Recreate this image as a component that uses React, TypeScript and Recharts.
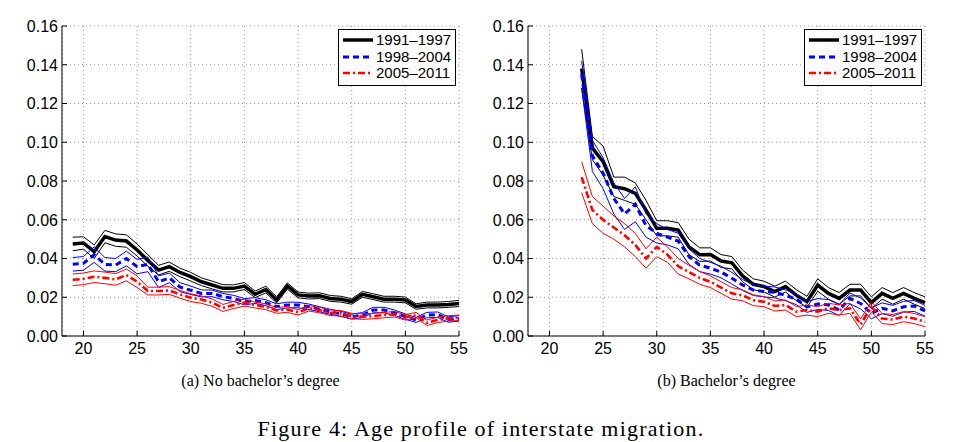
import { LineChart, Line, XAxis, YAxis, CartesianGrid, Legend } from 'recharts'

// ages on the x axis
const leftAges = [19, 20, 21, 22, 23, 24, 25, 26, 27, 28, 29, 30, 31, 32, 33, 34, 35, 36, 37, 38, 39, 40, 41, 42, 43, 44, 45, 46, 47, 48, 49, 50, 51, 52, 53, 54, 55]
const rightAges = [23, 24, 25, 26, 27, 28, 29, 30, 31, 32, 33, 34, 35, 36, 37, 38, 39, 40, 41, 42, 43, 44, 45, 46, 47, 48, 49, 50, 51, 52, 53, 54, 55]

const xTicks = [20, 25, 30, 35, 40, 45, 50, 55]
const yTicks = [0, 0.02, 0.04, 0.06, 0.08, 0.1, 0.12, 0.14, 0.16]

// (a) no bachelor's degree
const noBa9197 = [0.0475, 0.048, 0.0435, 0.0513, 0.0495, 0.049, 0.0444, 0.039, 0.034, 0.0358, 0.0328, 0.0306, 0.028, 0.0263, 0.0246, 0.0246, 0.0258, 0.0215, 0.024, 0.0186, 0.0258, 0.0212, 0.0206, 0.0208, 0.0194, 0.019, 0.0178, 0.0215, 0.0203, 0.019, 0.019, 0.0186, 0.0152, 0.016, 0.016, 0.0163, 0.0168]
const noBa9197Hi = [0.051, 0.0512, 0.047, 0.0545, 0.0527, 0.0522, 0.0475, 0.042, 0.0365, 0.0382, 0.035, 0.0328, 0.03, 0.0283, 0.0265, 0.0264, 0.0276, 0.0232, 0.0257, 0.0202, 0.0274, 0.0227, 0.0221, 0.0223, 0.0209, 0.0205, 0.0192, 0.023, 0.0218, 0.0205, 0.0205, 0.0201, 0.0166, 0.0175, 0.0175, 0.0178, 0.0184]
const noBa9197Lo = [0.044, 0.0448, 0.04, 0.0481, 0.0463, 0.0458, 0.0413, 0.036, 0.0315, 0.0334, 0.0306, 0.0284, 0.026, 0.0243, 0.0227, 0.0228, 0.024, 0.0198, 0.0223, 0.017, 0.0242, 0.0197, 0.0191, 0.0193, 0.0179, 0.0175, 0.0164, 0.02, 0.0188, 0.0175, 0.0175, 0.0171, 0.0138, 0.0145, 0.0145, 0.0148, 0.0152]

const noBa9804 = [0.037, 0.0375, 0.042, 0.037, 0.0366, 0.04, 0.0358, 0.037, 0.028, 0.03, 0.0252, 0.0236, 0.022, 0.022, 0.0203, 0.0194, 0.0177, 0.0183, 0.0172, 0.0151, 0.016, 0.016, 0.0151, 0.0138, 0.0125, 0.0114, 0.01, 0.0108, 0.0134, 0.0134, 0.012, 0.01, 0.0083, 0.0108, 0.011, 0.0085, 0.0091]
const noBa9804Hi = [0.0405, 0.041, 0.046, 0.0405, 0.04, 0.0438, 0.0395, 0.0408, 0.031, 0.0325, 0.0275, 0.0258, 0.0238, 0.0237, 0.0219, 0.021, 0.0193, 0.0198, 0.0187, 0.0166, 0.0175, 0.0174, 0.0165, 0.0151, 0.0138, 0.0127, 0.0113, 0.0121, 0.0148, 0.0148, 0.0134, 0.0114, 0.0096, 0.0122, 0.0124, 0.0099, 0.0105]
const noBa9804Lo = [0.0335, 0.034, 0.038, 0.0335, 0.0332, 0.0362, 0.0321, 0.0332, 0.025, 0.0275, 0.0229, 0.0214, 0.0202, 0.0203, 0.0187, 0.0178, 0.0161, 0.0168, 0.0157, 0.0136, 0.0145, 0.0146, 0.0137, 0.0125, 0.0112, 0.0101, 0.0087, 0.0095, 0.012, 0.012, 0.0106, 0.0086, 0.007, 0.0094, 0.0096, 0.0071, 0.0077]

const noBa0511 = [0.029, 0.0295, 0.0306, 0.03, 0.0292, 0.0315, 0.028, 0.0232, 0.0232, 0.0235, 0.0215, 0.0198, 0.0188, 0.0172, 0.0145, 0.016, 0.0172, 0.016, 0.0151, 0.0132, 0.0137, 0.0122, 0.0143, 0.0134, 0.012, 0.0117, 0.0103, 0.01, 0.0103, 0.0108, 0.0112, 0.0096, 0.0108, 0.0068, 0.0083, 0.0091, 0.0094]
const noBa0511Hi = [0.032, 0.0325, 0.0336, 0.033, 0.0322, 0.0345, 0.031, 0.0252, 0.0252, 0.0255, 0.0235, 0.0218, 0.0207, 0.0191, 0.0163, 0.0178, 0.019, 0.0175, 0.0166, 0.0147, 0.0152, 0.0136, 0.0157, 0.0148, 0.0134, 0.0131, 0.0117, 0.0114, 0.0117, 0.0122, 0.0126, 0.011, 0.0122, 0.0082, 0.0097, 0.0105, 0.0108]
const noBa0511Lo = [0.026, 0.0265, 0.0276, 0.027, 0.0262, 0.0285, 0.025, 0.0212, 0.0212, 0.0215, 0.0195, 0.0178, 0.0169, 0.0153, 0.0127, 0.0142, 0.0154, 0.0145, 0.0136, 0.0117, 0.0122, 0.0108, 0.0129, 0.012, 0.0106, 0.0103, 0.0089, 0.0086, 0.0089, 0.0094, 0.0098, 0.0082, 0.0094, 0.0054, 0.0069, 0.0077, 0.008]

// (b) bachelor's degree
const ba9197 = [0.138, 0.097, 0.09, 0.077, 0.076, 0.0736, 0.065, 0.0556, 0.0556, 0.0547, 0.046, 0.042, 0.0421, 0.0387, 0.0378, 0.031, 0.0267, 0.0255, 0.0229, 0.0255, 0.0211, 0.0177, 0.0263, 0.022, 0.0194, 0.0237, 0.0237, 0.0172, 0.022, 0.0194, 0.022, 0.0194, 0.0172]
const ba9197Hi = [0.148, 0.103, 0.098, 0.082, 0.082, 0.079, 0.07, 0.0595, 0.0595, 0.0585, 0.05, 0.0455, 0.0455, 0.042, 0.041, 0.034, 0.0295, 0.0283, 0.0257, 0.0283, 0.0239, 0.0205, 0.0295, 0.025, 0.0224, 0.0267, 0.0267, 0.0202, 0.025, 0.0224, 0.025, 0.0224, 0.0202]
const ba9197Lo = [0.128, 0.091, 0.083, 0.072, 0.07, 0.068, 0.06, 0.0517, 0.0517, 0.051, 0.042, 0.0385, 0.0387, 0.0354, 0.0346, 0.028, 0.0239, 0.0227, 0.0201, 0.0227, 0.0183, 0.0149, 0.0231, 0.019, 0.0164, 0.0207, 0.0207, 0.0142, 0.019, 0.0164, 0.019, 0.0164, 0.0142]

const ba9804 = [0.135, 0.093, 0.084, 0.071, 0.063, 0.068, 0.057, 0.053, 0.051, 0.049, 0.041, 0.0366, 0.035, 0.033, 0.0298, 0.0263, 0.0237, 0.023, 0.0225, 0.021, 0.019, 0.015, 0.0165, 0.016, 0.0134, 0.0194, 0.0168, 0.0117, 0.0143, 0.013, 0.0151, 0.0155, 0.013]
const ba9804Hi = [0.142, 0.101, 0.092, 0.079, 0.071, 0.077, 0.063, 0.058, 0.055, 0.053, 0.045, 0.04, 0.038, 0.036, 0.0328, 0.0291, 0.0265, 0.0258, 0.0253, 0.0238, 0.0218, 0.0178, 0.0193, 0.0188, 0.0162, 0.0222, 0.0196, 0.0145, 0.0171, 0.0158, 0.0179, 0.0183, 0.0158]
const ba9804Lo = [0.128, 0.085, 0.076, 0.063, 0.055, 0.059, 0.051, 0.048, 0.047, 0.045, 0.037, 0.0332, 0.032, 0.03, 0.0268, 0.0235, 0.0209, 0.0202, 0.0197, 0.0182, 0.0162, 0.0122, 0.0137, 0.0132, 0.0106, 0.0166, 0.014, 0.0089, 0.0115, 0.0102, 0.0123, 0.0127, 0.0102]

const ba0511 = [0.082, 0.065, 0.06, 0.056, 0.052, 0.047, 0.04, 0.046, 0.042, 0.036, 0.033, 0.03, 0.028, 0.025, 0.022, 0.021, 0.0185, 0.0177, 0.0155, 0.016, 0.0126, 0.0134, 0.0126, 0.0143, 0.0134, 0.0143, 0.006, 0.0151, 0.009, 0.0085, 0.01, 0.009, 0.0074]
const ba0511Hi = [0.09, 0.072, 0.067, 0.062, 0.058, 0.053, 0.045, 0.051, 0.046, 0.04, 0.0365, 0.0333, 0.031, 0.028, 0.025, 0.0238, 0.0213, 0.0203, 0.0181, 0.0186, 0.0152, 0.016, 0.0152, 0.0169, 0.016, 0.0169, 0.0088, 0.0177, 0.0116, 0.0111, 0.0126, 0.0116, 0.01]
const ba0511Lo = [0.074, 0.058, 0.053, 0.05, 0.046, 0.041, 0.035, 0.041, 0.038, 0.032, 0.0295, 0.0267, 0.025, 0.022, 0.019, 0.0182, 0.0157, 0.0151, 0.0129, 0.0134, 0.01, 0.0108, 0.01, 0.0117, 0.0108, 0.0117, 0.0032, 0.0125, 0.0064, 0.0059, 0.0074, 0.0064, 0.0048]

const SERIES = [
  { key: 'k', label: '1991–1997', color: '#000000', width: 3.5, dash: undefined as string | undefined },
  { key: 'b', label: '1998–2004', color: '#0000ff', width: 3, dash: '6 4' },
  { key: 'r', label: '2005–2011', color: '#ff0000', width: 2.6, dash: '7 3 2 3' },
]

function buildRows(ages: number[], groups: number[][][]) {
  return ages.map((age, i) => {
    const row: Record<string, number> = { age }
    SERIES.forEach((s, j) => {
      row[s.key + 'M'] = groups[j][0][i]
      row[s.key + 'H'] = groups[j][1][i]
      row[s.key + 'L'] = groups[j][2][i]
    })
    return row
  })
}

const leftRows = buildRows(leftAges, [
  [noBa9197, noBa9197Hi, noBa9197Lo],
  [noBa9804, noBa9804Hi, noBa9804Lo],
  [noBa0511, noBa0511Hi, noBa0511Lo],
])
const rightRows = buildRows(rightAges, [
  [ba9197, ba9197Hi, ba9197Lo],
  [ba9804, ba9804Hi, ba9804Lo],
  [ba0511, ba0511Hi, ba0511Lo],
])

const sans = '"Liberation Sans", Arial, sans-serif'
const serif = '"Liberation Serif", "Times New Roman", serif'

function YTick(props: any) {
  const { x, y, payload } = props
  return (
    <g>
      <line x1={x} x2={x + 5} y1={y} y2={y} stroke="#000" />
      <text x={x - 4} y={y} dy="0.36em" textAnchor="end" fontFamily={sans} fontSize={16} fill="#000">
        {payload.value.toFixed(2)}
      </text>
    </g>
  )
}

function XTick(props: any) {
  const { x, y, payload } = props
  return (
    <g>
      <line x1={x} x2={x} y1={y} y2={y - 5} stroke="#000" />
      <text x={x} y={y + 7} dy="0.71em" textAnchor="middle" fontFamily={sans} fontSize={16} fill="#000">
        {payload.value}
      </text>
    </g>
  )
}

function LegendBox() {
  return (
    <div style={{ border: '1px solid #000', background: '#fff', padding: '2px 4px 3px 3px', fontFamily: sans, fontSize: 15, lineHeight: '16.5px', color: '#000' }}>
      {SERIES.map((s) => (
        <div key={s.key} style={{ display: 'flex', alignItems: 'center' }}>
          <svg width={32} height={10} style={{ marginRight: 2 }}>
            <line x1={1} x2={31} y1={5} y2={5} stroke={s.color} strokeWidth={s.width} strokeDasharray={s.dash} />
          </svg>
          <span>{s.label}</span>
        </div>
      ))}
    </div>
  )
}

function Panel({ rows, left }: { rows: Record<string, number>[]; left: number }) {
  return (
    <div style={{ position: 'absolute', left, top: 0, width: 470, height: 370 }}>
      <LineChart width={470} height={370} data={rows} margin={{ top: 26, right: 11, left: 0, bottom: 0 }}>
        <CartesianGrid stroke="#9a9a9a" strokeDasharray="1 3" />
        <XAxis
          dataKey="age"
          type="number"
          domain={[18, 55]}
          ticks={xTicks}
          height={34}
          tickSize={0}
          tickMargin={0}
          tick={<XTick />}
          stroke="#000"
        />
        <YAxis
          type="number"
          domain={[0, 0.16]}
          ticks={yTicks}
          width={62}
          tickSize={0}
          tickMargin={0}
          tick={<YTick />}
          stroke="#000"
        />
        {SERIES.map((s) => [
          <Line key={s.key + 'H'} dataKey={s.key + 'H'} stroke={s.color} strokeWidth={1} dot={false} isAnimationActive={false} />,
          <Line key={s.key + 'L'} dataKey={s.key + 'L'} stroke={s.color} strokeWidth={1} dot={false} isAnimationActive={false} />,
          <Line key={s.key + 'M'} dataKey={s.key + 'M'} stroke={s.color} strokeWidth={s.width} strokeDasharray={s.dash} dot={false} isAnimationActive={false} />,
        ])}
        <Legend
          layout="horizontal"
          verticalAlign="middle"
          align="center"
          content={() => <LegendBox />}
          wrapperStyle={{ left: 338, top: 29, width: 'auto' }}
        />
      </LineChart>
    </div>
  )
}

export default function App() {
  return (
    <div style={{ position: 'absolute', left: 0, top: 0, width: 962, height: 442, background: '#fff' }}>
      <Panel rows={leftRows} left={0} />
      <Panel rows={rightRows} left={466} />
      <div style={{ position: 'absolute', left: 62, top: 371, width: 397, textAlign: 'center', fontFamily: serif, fontSize: 16, lineHeight: '20px' }}>
        (a) No bachelor’s degree
      </div>
      <div style={{ position: 'absolute', left: 528, top: 371, width: 397, textAlign: 'center', fontFamily: serif, fontSize: 16, lineHeight: '20px' }}>
        (b) Bachelor’s degree
      </div>
      <div style={{ position: 'absolute', left: 0, top: 416, width: 962, textAlign: 'center', fontFamily: serif, fontSize: 22, lineHeight: '25px', letterSpacing: 1.2 }}>
        Figure 4: Age profile of interstate migration.
      </div>
    </div>
  )
}
